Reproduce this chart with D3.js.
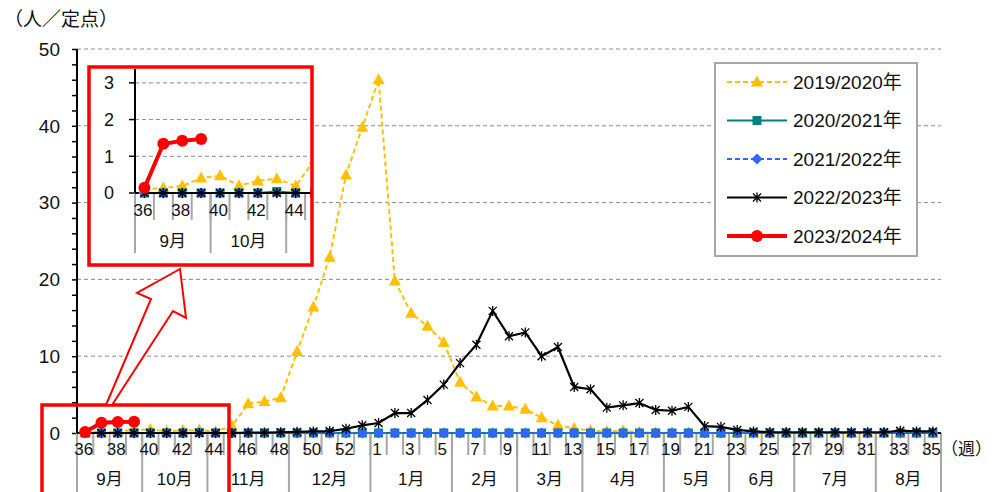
<!DOCTYPE html>
<html>
<head>
<meta charset="utf-8">
<script src="https://cdn.jsdelivr.net/npm/d3@7"></script>
<style>
  body { margin: 0; background: #fff; }
  text { font-family: "Liberation Sans", "Noto Sans CJK JP", sans-serif; fill: #111; }
</style>
</head>
<body>
<svg id="chart" width="995" height="492"></svg>
<script>

// week categories (season runs from week 36 to week 35 of next year)
var weeks = ["36","37","38","39","40","41","42","43","44","45","46","47","48","49","50","51","52","53",
             "1","2","3","4","5","6","7","8","9","10","11","12","13","14","15","16","17","18",
             "19","20","21","22","23","24","25","26","27","28","29","30","31","32","33","34","35"];

var monthNames = ["9月","10月","11月","12月","1月","2月","3月","4月","5月","6月","7月","8月"];
var monthWeeks = [4, 4, 5, 5, 5, 4, 4, 5, 4, 4, 5, 4];

var yTicks = [0, 10, 20, 30, 40, 50];
var yTicksInset = [0, 1, 2, 3];

var seriesNames = ["2019/2020年", "2020/2021年", "2021/2022年", "2022/2023年", "2023/2024年"];

var s1920 = [0.1, 0.14, 0.19, 0.41, 0.47, 0.2, 0.33, 0.39, 0.19, 0.9, 3.8, 4.1, 4.6, 10.6, 16.4, 22.9, 33.6, 39.8,
             46.0, 19.8, 15.6, 13.9, 11.8, 6.6, 4.7, 3.5, 3.5, 3.1, 2.0, 1.0, 0.6, 0.3, 0.2, 0.3, 0.1, 0,
             0, 0, 0, 0, 0, 0, 0, 0, 0, 0, 0, 0, 0, 0, 0, 0, 0];
var s2021 = [0, 0, 0, 0, 0, 0, 0, 0.04, 0, 0, 0, 0, 0, 0, 0, 0, 0, 0,
             0, 0, 0, 0, 0, 0, 0, 0, 0, 0, 0, 0, 0, 0, 0, 0, 0, 0,
             0, 0, 0, 0, 0, 0, 0, 0, 0, 0, 0, 0, 0, 0, 0, 0, 0];
var s2122 = [0, 0, 0, 0, 0, 0, 0, 0, 0, 0, 0, 0, 0, 0, 0, 0, 0, 0,
             0, 0, 0, 0, 0, 0, 0, 0, 0, 0, 0, 0, 0, 0, 0, 0, 0, 0,
             0, 0, 0, 0, 0, 0, 0, 0, 0, 0, 0, 0, 0, 0, 0, 0, 0];
var s2223 = [0, 0, 0, 0, 0, 0, 0, 0, 0, 0, 0.05, 0.05, 0.1, 0.15, 0.2, 0.25, 0.55, 1.0,
             1.3, 2.6, 2.6, 4.3, 6.3, 9.1, 11.5, 15.9, 12.6, 13.1, 10.0, 11.2, 6.0, 5.7, 3.3, 3.6, 3.9, 3.0,
             2.9, 3.4, 0.9, 0.8, 0.4, 0.2, 0.1, 0.1, 0.1, 0.1, 0.1, 0.1, 0.1, 0.1, 0.3, 0.2, 0.2];
var s2324 = [0.14, 1.34, 1.42, 1.47];

var seriesStyle = [
	{ values: s1920, color: "#FFC000", width: 2, dash: "5,3", marker: "triangle" },
	{ values: s2021, color: "#008080", width: 2, dash: null, marker: "square" },
	{ values: s2122, color: "#3366FF", width: 2, dash: "5,3", marker: "diamond" },
	{ values: s2223, color: "#000000", width: 2.2, dash: null, marker: "star" },
	{ values: s2324, color: "#FF0000", width: 4, dash: null, marker: "circle" }
];

var svg = d3.select("#chart");

// main scales
var x = d3.scaleBand().domain(weeks).range([77, 941]);
var y = d3.scaleLinear().domain([0, 50]).range([433, 49]);

// inset scales (zoomed view of the start of the season)
var xi = d3.scaleBand().domain(weeks).range([135, 135 + weeks.length * 18.9]);
var yi = d3.scaleLinear().domain([0, 3.35]).range([193, 70]);


function drawMarker(sel, type, color) {

	if (type == "circle") {
		sel.append("circle").attr("r", 6).attr("fill", color);
	} else if (type == "star") {
		sel.append("path")
			.attr("d", "M-4,-4L4,4M-4,4L4,-4M0,-5L0,5")
			.attr("stroke", color).attr("stroke-width", 1.3).attr("fill", "none");
	} else {
		var d = { triangle: "M0,-6.5L6,4.5L-6,4.5Z",
				  square: "M-4.5,-4.5H4.5V4.5H-4.5Z",
				  diamond: "M0,-5.5L5.5,0L0,5.5L-5.5,0Z" }[type];
		sel.append("path").attr("d", d).attr("fill", color);
	}
}


function drawSeries(g, xs, ys) {

	var cx = function(i) { return xs(weeks[i]) + xs.bandwidth() / 2; };

	seriesStyle.forEach(function(s) {

		var line = d3.line()
			.x(function(d, i) { return cx(i); })
			.y(function(d) { return ys(d); });

		g.append("path")
			.attr("d", line(s.values))
			.attr("fill", "none")
			.attr("stroke", s.color)
			.attr("stroke-width", s.width)
			.attr("stroke-dasharray", s.dash);

		g.selectAll(null)
			.data(s.values)
			.enter().append("g")
			.attr("transform", function(d, i) { return "translate(" + cx(i) + "," + ys(d) + ")"; })
			.each(function() { drawMarker(d3.select(this), s.marker, s.color); });
	});
}


// category axis in the excel style: week ticks, month groups below
function drawWeekAxis(g, xs, ys, shortLen, longEnd, weekY, monthY, xEnd) {

	var y0 = ys(0);
	var bw = xs.bandwidth();
	var x0 = xs.range()[0];

	var cum = [0];
	monthWeeks.forEach(function(n, i) { cum.push(cum[i] + n); });

	// only what is inside the visible part of the axis
	var visWeeks = weeks.filter(function(d) { return xs(d) + bw <= xEnd + 1; });
	var visCum = cum.filter(function(d) { return x0 + d * bw <= xEnd + 1; });
	var visMonths = monthNames.filter(function(d, i) {
		return x0 + (cum[i] + cum[i + 1]) / 2 * bw < xEnd; });

	g.selectAll(null)
		.data(visWeeks)
		.enter().append("line")
		.attr("x1", function(d) { return xs(d) + bw; })
		.attr("x2", function(d) { return xs(d) + bw; })
		.attr("y1", y0)
		.attr("y2", y0 + shortLen)
		.attr("stroke", "#a6a6a6")
		.attr("stroke-width", 2);

	g.selectAll(null)
		.data(visCum)
		.enter().append("line")
		.attr("x1", function(d) { return x0 + d * bw; })
		.attr("x2", function(d) { return x0 + d * bw; })
		.attr("y1", y0)
		.attr("y2", longEnd)
		.attr("stroke", "#a6a6a6")
		.attr("stroke-width", 2);

	g.selectAll(null)
		.data(visWeeks.filter(function(d, i) { return i % 2 == 0; }))
		.enter().append("text")
		.attr("x", function(d) { return xs(d) + bw / 2 - 1.5; })
		.attr("y", weekY)
		.attr("text-anchor", "middle")
		.style("font-size", "17px")
		.text(function(d) { return d; });

	g.selectAll(null)
		.data(visMonths)
		.enter().append("text")
		.attr("x", function(d, i) { return x0 + (cum[i] + cum[i + 1]) / 2 * bw; })
		.attr("y", monthY)
		.attr("text-anchor", "middle")
		.style("font-size", "17px")
		.text(function(d) { return d; });

	g.append("line")
		.attr("x1", x0).attr("x2", xEnd)
		.attr("y1", y0).attr("y2", y0)
		.attr("stroke", "#000").attr("stroke-width", 2);
}


// ---------- main chart ----------

var main = svg.append("g");

main.selectAll(null)
	.data(yTicks.slice(1))
	.enter().append("line")
	.attr("x1", 77).attr("x2", 941)
	.attr("y1", y).attr("y2", y)
	.attr("stroke", "#8c8c8c")
	.attr("stroke-dasharray", "4,3");

var yAxis = main.append("g")
	.attr("transform", "translate(77,0)")
	.call(d3.axisLeft(y).tickValues(d3.range(0, 51, 2)).tickSize(5).tickFormat(""));
yAxis.select(".domain").remove();
yAxis.selectAll("line").attr("stroke", "#000").attr("stroke-width", 1.5);

main.selectAll(null)
	.data(yTicks)
	.enter().append("text")
	.attr("x", 60)
	.attr("y", y)
	.attr("dy", "0.36em")
	.attr("text-anchor", "end")
	.style("font-size", "19px")
	.text(function(d) { return d; });

main.append("line")
	.attr("x1", 77).attr("x2", 77)
	.attr("y1", y(0)).attr("y2", y(50))
	.attr("stroke", "#000").attr("stroke-width", 2);

drawWeekAxis(main, x, y, 22, 492, 455, 485, 941);

drawSeries(main.append("g"), x, y);

main.append("text")
	.attr("x", 4).attr("y", 26)
	.style("font-size", "19px")
	.text("（人／定点）");

main.append("text")
	.attr("x", 941).attr("y", 455)
	.style("font-size", "17px")
	.text("（週）");


// ---------- legend ----------

var legend = svg.append("g");

legend.append("rect")
	.attr("x", 715).attr("y", 63)
	.attr("width", 202).attr("height", 193)
	.attr("fill", "#fff")
	.attr("stroke", "#a6a6a6").attr("stroke-width", 2);

var item = legend.selectAll(null)
	.data(seriesStyle)
	.enter().append("g")
	.attr("transform", function(d, i) { return "translate(0," + (82 + i * 38.5) + ")"; });

item.append("line")
	.attr("x1", 727).attr("x2", 787)
	.attr("stroke", function(d) { return d.color; })
	.attr("stroke-width", function(d) { return d.width; })
	.attr("stroke-dasharray", function(d) { return d.dash; });

item.append("g")
	.attr("transform", "translate(757,0)")
	.each(function(d) { drawMarker(d3.select(this), d.marker, d.color); });

item.append("text")
	.attr("x", 793).attr("dy", "0.36em")
	.style("font-size", "19px")
	.text(function(d, i) { return seriesNames[i]; });


// ---------- inset ----------

svg.append("rect")
	.attr("x", 89).attr("y", 67)
	.attr("width", 223).attr("height", 198)
	.attr("fill", "#fff");

svg.append("clipPath").attr("id", "insetClip")
	.append("rect")
	.attr("x", 91).attr("y", 69)
	.attr("width", 220).attr("height", 194);

var inset = svg.append("g").attr("clip-path", "url(#insetClip)");

inset.selectAll(null)
	.data(yTicksInset.slice(1))
	.enter().append("line")
	.attr("x1", 135).attr("x2", 311)
	.attr("y1", yi).attr("y2", yi)
	.attr("stroke", "#8c8c8c")
	.attr("stroke-dasharray", "4,3");

inset.selectAll(null)
	.data(yTicksInset)
	.enter().append("line")
	.attr("x1", 129).attr("x2", 135)
	.attr("y1", yi).attr("y2", yi)
	.attr("stroke", "#000").attr("stroke-width", 1.5);

inset.selectAll(null)
	.data(yTicksInset)
	.enter().append("text")
	.attr("x", 114)
	.attr("y", yi)
	.attr("dy", "0.36em")
	.attr("text-anchor", "end")
	.style("font-size", "18px")
	.text(function(d) { return d; });

inset.append("line")
	.attr("x1", 135).attr("x2", 135)
	.attr("y1", yi(0)).attr("y2", 69)
	.attr("stroke", "#000").attr("stroke-width", 2);

drawWeekAxis(inset, xi, yi, 27, 253, 216, 247, 312);

drawSeries(inset.append("g"), xi, yi);

svg.append("rect")
	.attr("x", 89).attr("y", 67)
	.attr("width", 223).attr("height", 198)
	.attr("fill", "none")
	.attr("stroke", "#FF0000").attr("stroke-width", 3.5);


// ---------- highlight box and arrow ----------

svg.append("rect")
	.attr("x", 42).attr("y", 405)
	.attr("width", 187).attr("height", 120)
	.attr("fill", "none")
	.attr("stroke", "#FF0000").attr("stroke-width", 3.5);

svg.append("path")
	.attr("d", "M106,405L151,299L137,293L180,269L186,318L173,311L112,405Z")
	.attr("fill", "#fff")
	.attr("stroke", "#FF0000").attr("stroke-width", 2)
	.attr("stroke-linejoin", "miter");

</script>
</body>
</html>
